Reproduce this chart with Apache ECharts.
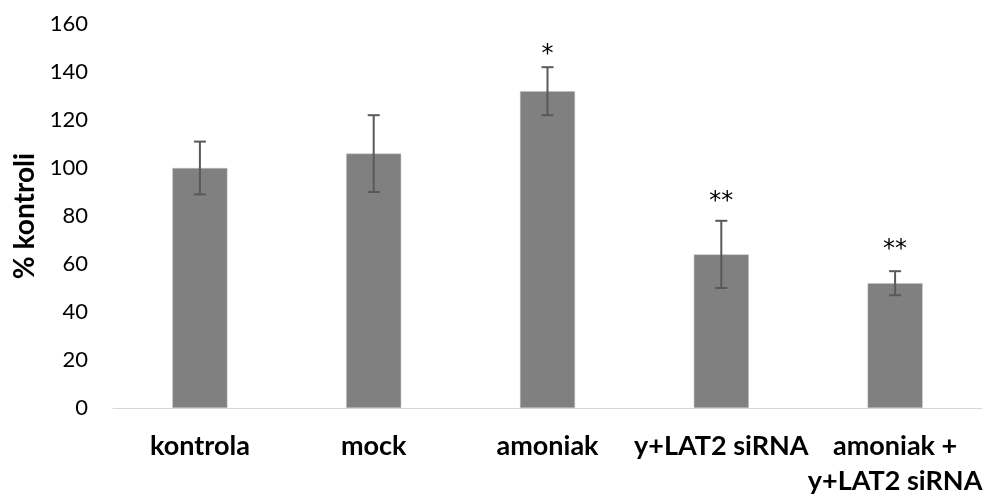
<!DOCTYPE html>
<html>
<head>
<meta charset="utf-8">
<script src="https://cdn.jsdelivr.net/npm/echarts@6/dist/echarts.min.js"></script>
<style>html,body{margin:0;padding:0;background:#fff;}#c{width:983px;height:496px;}</style>
</head>
<body>
<div id="c"></div>
<script>
var categories = ['kontrola', 'mock', 'amoniak', 'y+LAT2 siRNA', 'amoniak +\ny+LAT2 siRNA'];
var values = [100, 106, 132, 64, 52];
var errors = [11, 16, 10, 14, 5];
var stars = ['', '', '*', '**', '**'];
var starLevels = [null, null, 147, 86, 66];
var yTicks = {min: 0, max: 160, interval: 20};

var chart = echarts.init(document.getElementById('c'), null, {renderer: 'canvas'});
var font = 'Lato, "Open Sans", sans-serif';

var errData = values.map(function (v, i) { return [i, v - errors[i], v + errors[i]]; });
var starData = [];
stars.forEach(function (s, i) { if (s) starData.push([i, starLevels[i], s]); });

chart.setOption({
  animation: false,
  grid: {left: 113, right: 1, top: 24, bottom: 88, containLabel: false, outerBoundsMode: 'none'},
  xAxis: {
    type: 'category',
    data: categories,
    axisLine: {show: true, lineStyle: {color: '#d9d9d9', width: 1}},
    axisTick: {show: false},
    axisLabel: {
      interval: 0, margin: 21, color: '#000', fontFamily: font,
      fontWeight: 'bold', fontSize: 27, lineHeight: 35
    }
  },
  yAxis: {
    type: 'value',
    min: yTicks.min, max: yTicks.max, interval: yTicks.interval,
    name: '% kontroli',
    nameLocation: 'middle',
    nameGap: 74,
    nameTextStyle: {color: '#000', fontFamily: font, fontWeight: 'bold', fontSize: 28},
    axisLine: {show: false},
    axisTick: {show: false},
    splitLine: {show: false},
    axisLabel: {margin: 25, color: '#000', fontFamily: font, fontSize: 22}
  },
  series: [
    {
      type: 'bar',
      data: values,
      barWidth: 55,
      itemStyle: {color: '#808080', borderColor: '#bfbfbf', borderWidth: 0.5}
    },
    {
      type: 'custom',
      data: errData,
      z: 5,
      renderItem: function (params, api) {
        var x = api.value(0);
        var lo = api.coord([x, api.value(1)]);
        var hi = api.coord([x, api.value(2)]);
        var cap = 6;
        var st = {stroke: '#595959', lineWidth: 2};
        return {
          type: 'group',
          children: [
            {type: 'line', shape: {x1: lo[0], y1: lo[1], x2: hi[0], y2: hi[1]}, style: st},
            {type: 'line', shape: {x1: hi[0] - cap, y1: hi[1], x2: hi[0] + cap, y2: hi[1]}, style: st},
            {type: 'line', shape: {x1: lo[0] - cap, y1: lo[1], x2: lo[0] + cap, y2: lo[1]}, style: st}
          ]
        };
      }
    },
    {
      type: 'custom',
      data: starData,
      z: 6,
      renderItem: function (params, api) {
        var p = api.coord([api.value(0), api.value(1)]);
        return {
          type: 'text',
          style: {
            x: p[0], y: p[1], text: starData[params.dataIndex][2],
            align: 'center', verticalAlign: 'middle',
            fill: '#000', font: '24px "DejaVu Sans", sans-serif'
          }
        };
      }
    }
  ]
});
</script>
</body>
</html>
